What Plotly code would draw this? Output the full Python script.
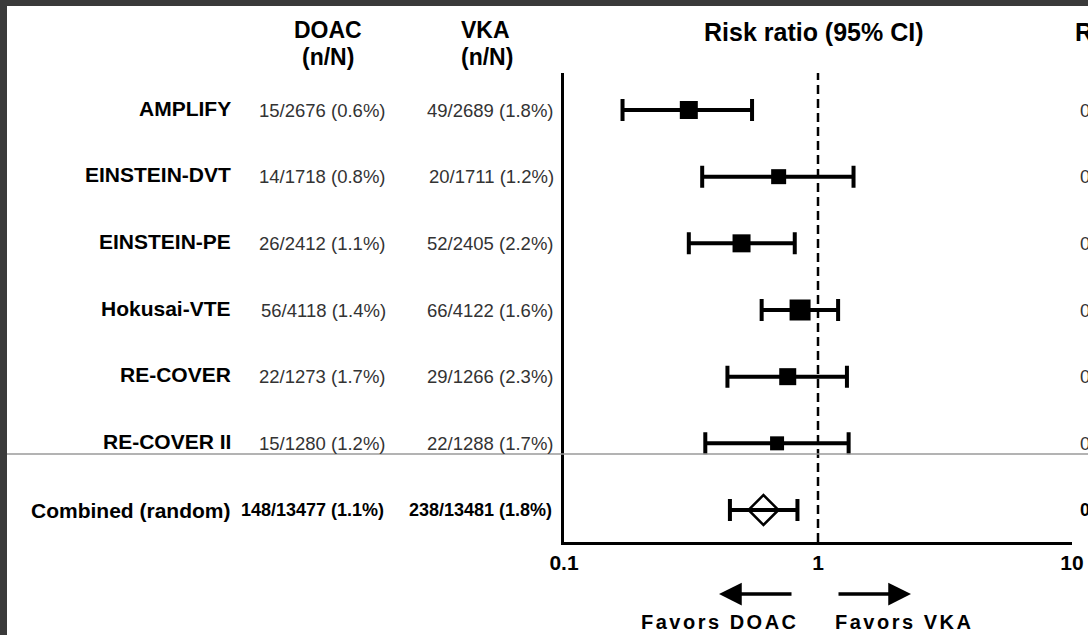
import plotly.graph_objects as go

# ---------------- data ----------------
studies = ["AMPLIFY", "EINSTEIN-DVT", "EINSTEIN-PE", "Hokusai-VTE", "RE-COVER", "RE-COVER II"]
doac = ["15/2676 (0.6%)", "14/1718 (0.8%)", "26/2412 (1.1%)", "56/4118 (1.4%)",
        "22/1273 (1.7%)", "15/1280 (1.2%)"]
vka = ["49/2689 (1.8%)", "20/1711 (1.2%)", "52/2405 (2.2%)", "66/4122 (1.6%)",
       "29/1266 (2.3%)", "22/1288 (1.7%)"]
rr = [0.31, 0.70, 0.50, 0.85, 0.76, 0.69]
rr_lo = [0.17, 0.35, 0.31, 0.60, 0.44, 0.36]
rr_hi = [0.55, 1.38, 0.81, 1.20, 1.30, 1.32]

combined_label = "Combined (random)"
combined_doac = "148/13477 (1.1%)"
combined_vka = "238/13481 (1.8%)"
combined_rr = 0.61
combined_lo = 0.45
combined_hi = 0.83

x_ticks = [0.1, 1, 10]
x_ticktext = ["0.1", "1", "10"]

# ---------------- style ----------------
W, H = 1088, 635
PL, PR, PT, PB = 564, 1072, 73, 542
square_px = [18, 15, 18, 21, 17, 14]
FONT = "Liberation Sans, Arial, sans-serif"
FRAME = "#3a3a3a"


def px(x):
    return (x - PL) / (PR - PL)


def py(y):
    return (PB - y) / (PB - PT)


n = len(studies)
row_y = [n + 1 - i for i in range(n)]  # 7..2
comb_y = 1

fig = go.Figure()

# study estimates
fig.add_trace(go.Scatter(
    x=rr, y=row_y, mode="markers",
    marker=dict(symbol="square", size=square_px, color="black", opacity=1,
                line=dict(width=0)),
    error_x=dict(type="data", symmetric=False,
                 array=[h - r for h, r in zip(rr_hi, rr)],
                 arrayminus=[r - l for r, l in zip(rr, rr_lo)],
                 color="black", thickness=4, width=11),
    showlegend=False, hoverinfo="skip"))

# combined estimate
fig.add_trace(go.Scatter(
    x=[combined_rr], y=[comb_y], mode="markers",
    marker=dict(symbol="diamond-open", size=23, color="black", opacity=1,
                line=dict(width=2.5, color="black")),
    error_x=dict(type="data", symmetric=False,
                 array=[combined_hi - combined_rr],
                 arrayminus=[combined_rr - combined_lo],
                 color="black", thickness=4, width=11),
    showlegend=False, hoverinfo="skip"))

shapes = [
    # dark frame (top and left)
    dict(type="rect", xref="paper", yref="paper", x0=px(-5), x1=px(W + 5), y0=py(6), y1=py(-5),
         fillcolor=FRAME, line=dict(width=0), layer="above"),
    dict(type="rect", xref="paper", yref="paper", x0=px(-5), x1=px(7), y0=py(H + 5), y1=py(-5),
         fillcolor=FRAME, line=dict(width=0), layer="above"),
    # null line
    dict(type="line", xref="x", yref="paper", x0=1, x1=1, y0=0, y1=1,
         line=dict(color="black", width=2.5, dash="9px,5px")),
    # thin separator
    dict(type="line", xref="paper", yref="paper", x0=px(7), x1=px(W + 5), y0=py(454), y1=py(454),
         line=dict(color="#9a9a9a", width=1.5)),
]

ann = []


def txt(text, x, y, font, xanchor="center", yref="paper"):
    ann.append(dict(text=text, x=px(x), y=(py(y) if yref == "paper" else y),
                    xref="paper", yref=yref, xanchor=xanchor, yanchor="middle",
                    showarrow=False, font=font))


hdr_font = dict(family=FONT, size=23, color="black", weight="bold")
txt("DOAC", 328, 30, hdr_font)
txt("(n/N)", 328, 57, hdr_font)
txt("VKA", 485, 30, hdr_font)
txt("(n/N)", 487, 57, hdr_font)
rr_hdr_font = dict(family=FONT, size=25, color="black", weight="bold")
txt("Risk ratio (95% CI)", 814, 32, rr_hdr_font)
txt("RR (95% CI)", 1073, 32, rr_hdr_font, xanchor="left")

lab_font = dict(family=FONT, size=21, color="black", weight="bold")
val_font = dict(family=FONT, size=18.5, color="#333333")
for i in range(n):
    txt(studies[i], 233, row_y[i] + 0.03, lab_font, "right", "y")
    txt(doac[i], 388, row_y[i], val_font, "right", "y")
    txt(vka[i], 556, row_y[i], val_font, "right", "y")
    txt(f"{rr[i]:.2f} ({rr_lo[i]:.2f}\u2013{rr_hi[i]:.2f})", 1078, row_y[i], val_font, "left", "y")

comb_font = dict(family=FONT, size=18, color="black", weight="bold")
txt(combined_label, 233, comb_y, lab_font, "right", "y")
txt(combined_doac, 386, comb_y, comb_font, "right", "y")
txt(combined_vka, 554, comb_y, comb_font, "right", "y")
txt(f"{combined_rr:.2f} ({combined_lo:.2f}\u2013{combined_hi:.2f})", 1078, comb_y, comb_font, "left", "y")

# favours arrows
ann.append(dict(text="", x=px(719), y=py(594), xref="paper", yref="paper", showarrow=True,
                ax=74, ay=0, arrowhead=2, arrowsize=1.3, arrowwidth=3.5, arrowcolor="black"))
ann.append(dict(text="", x=px(911), y=py(594), xref="paper", yref="paper", showarrow=True,
                ax=-74, ay=0, arrowhead=2, arrowsize=1.3, arrowwidth=3.5, arrowcolor="black"))
fav_font = dict(family=FONT, size=20, color="black", weight="bold")
txt('<span style="letter-spacing:2.5px">Favors DOAC</span>', 720, 622, fav_font)
txt('<span style="letter-spacing:2.5px">Favors VKA</span>', 904, 622, fav_font)

fig.update_layout(
    width=W, height=H, autosize=False,
    margin=dict(l=PL, r=W - PR, t=PT, b=H - PB, pad=0, autoexpand=False),
    paper_bgcolor="white", plot_bgcolor="white",
    shapes=shapes, annotations=ann, showlegend=False,
    xaxis=dict(type="log", range=[-1, 1], tickvals=x_ticks, ticktext=x_ticktext,
               showline=True, linewidth=3, linecolor="black", ticks="",
               showgrid=False, zeroline=False, automargin=False,
               tickfont=dict(family=FONT, size=21, color="black", weight="bold")),
    yaxis=dict(range=[0.52, 7.555], showline=True, linewidth=3, linecolor="black",
               showticklabels=False, ticks="", showgrid=False, zeroline=False,
               automargin=False),
)

fig.write_html(
    "out.html",
    config={"displayModeBar": False, "responsive": False},
    post_script=("document.documentElement.style.overflow='hidden';"
                 "document.body.style.margin='0';document.body.style.overflow='hidden';"),
)
